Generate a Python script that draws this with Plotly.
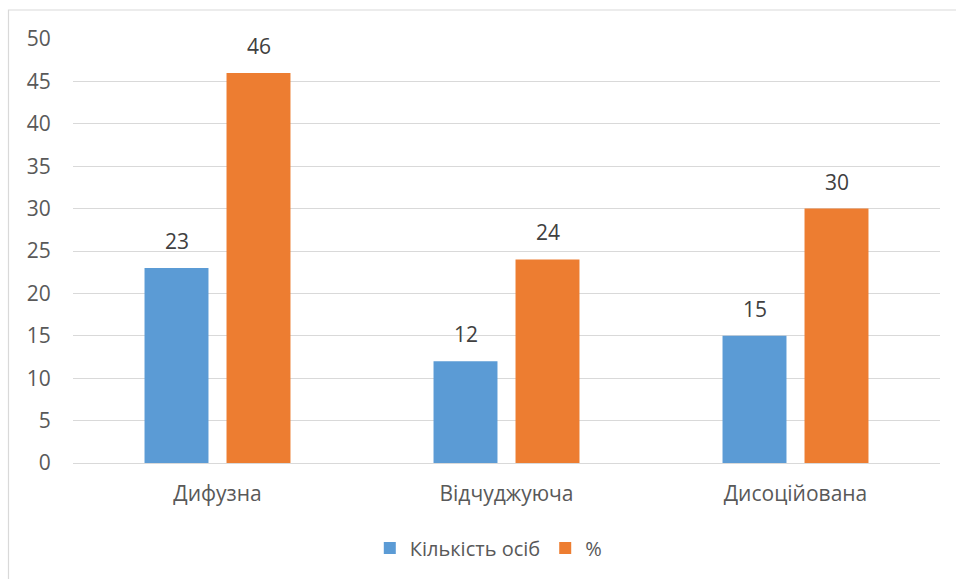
import plotly.graph_objects as go

categories = ["Дифузна", "Відчуджуюча", "Дисоційована"]
count_values = [23, 12, 15]
percent_values = [46, 24, 30]
series_names = ["Кількість осіб", "%"]
y_ticks = [0, 5, 10, 15, 20, 25, 30, 35, 40, 45, 50]

BLUE = "#5B9BD5"
ORANGE = "#ED7D31"
GRID = "#D9D9D9"
TEXT = "#595959"
FONT = "Open Sans"

fig = go.Figure()
fig.add_trace(go.Bar(x=categories, y=count_values, name=series_names[0],
                     marker=dict(color=BLUE, line=dict(width=0))))
fig.add_trace(go.Bar(x=categories, y=percent_values, name=series_names[1],
                     marker=dict(color=ORANGE, line=dict(width=0))))

# value labels above each bar
slot_px = 41
for vals, shift in ((count_values, -slot_px), (percent_values, slot_px)):
    for c, v in zip(categories, vals):
        fig.add_annotation(x=c, y=v, text=str(v), showarrow=False,
                           xshift=shift, yshift=11, yanchor="bottom",
                           font=dict(family=FONT, size=21, color="#404040"))

# outer chart frame
fig.add_shape(type="rect", xref="paper", yref="paper",
              x0=-0.0744, x1=1.2, y0=-0.5, y1=1.0684,
              line=dict(color=GRID, width=1.2), fillcolor="rgba(0,0,0,0)",
              layer="below")

fig.update_layout(
    width=956, height=579,
    margin=dict(l=73, r=16, t=39, b=116),
    paper_bgcolor="white", plot_bgcolor="white",
    barmode="group", bargap=0.4325, bargroupgap=0.22,
    font=dict(family=FONT, size=21, color=TEXT),
    showlegend=True,
    legend=dict(orientation="h", x=0.479, xanchor="center", y=-0.2005,
                yanchor="middle", font=dict(family=FONT, size=20, color=TEXT),
                itemwidth=30, traceorder="normal"),
    xaxis=dict(showgrid=False, showline=False, ticks="outside", ticklen=12,
               tickcolor="rgba(0,0,0,0)", tickfont=dict(size=21, color=TEXT)),
    yaxis=dict(range=[0, 50], tickvals=y_ticks, showgrid=True, gridcolor=GRID,
               gridwidth=1.2, zeroline=True, zerolinecolor=GRID, zerolinewidth=1.2,
               showline=False, ticks="outside", ticklen=17,
               tickcolor="rgba(0,0,0,0)", tickfont=dict(size=21, color=TEXT)),
)

fig.write_html("out.html")
